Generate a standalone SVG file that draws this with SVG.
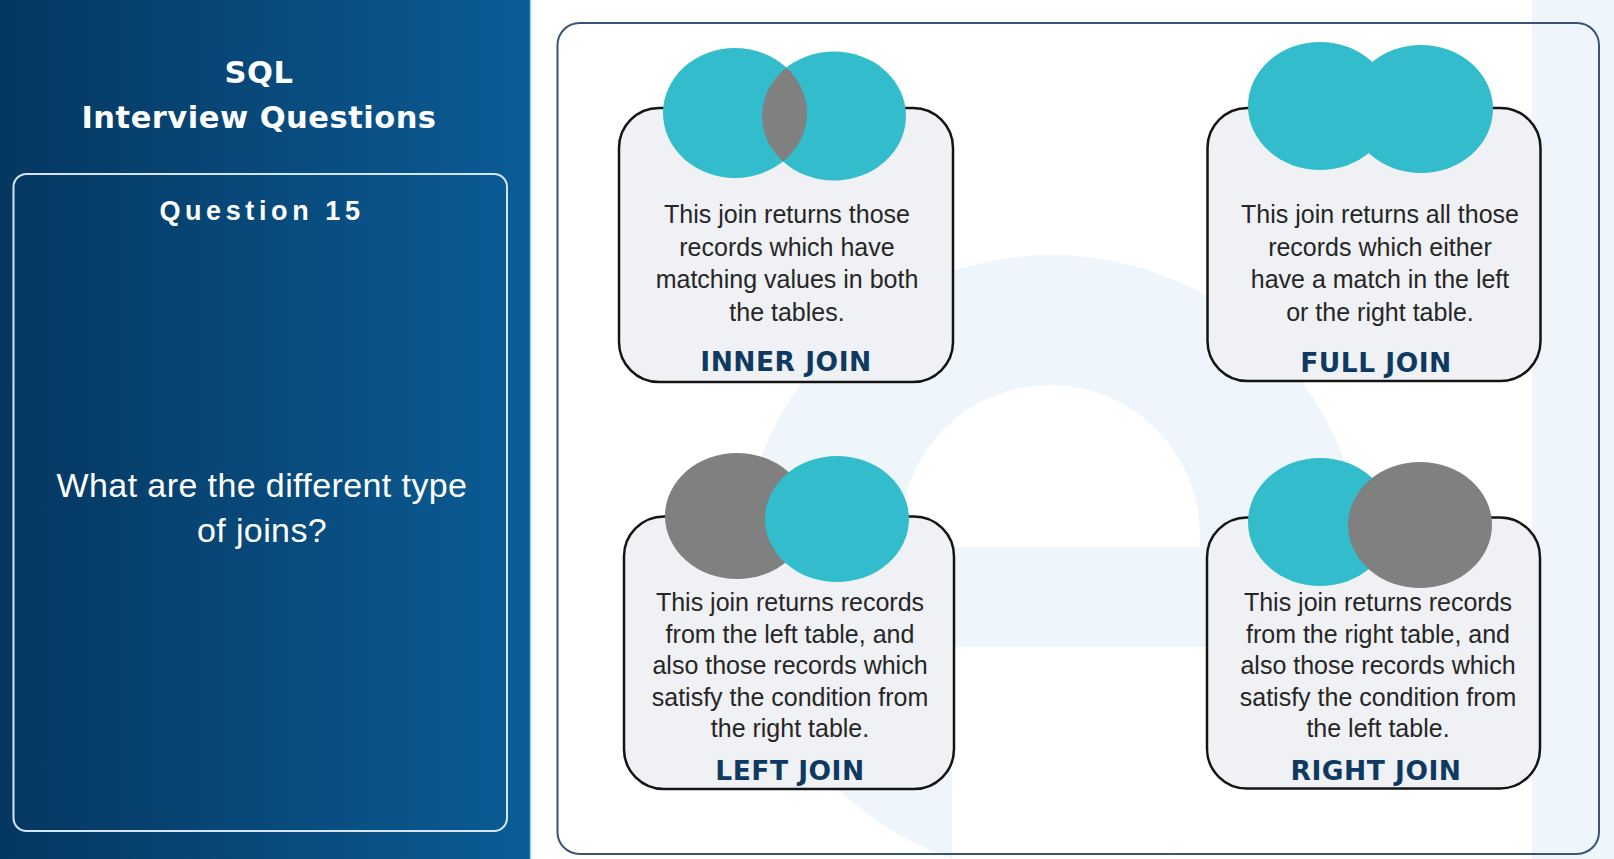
<svg xmlns="http://www.w3.org/2000/svg" width="1614" height="859" viewBox="0 0 1614 859">
  <defs>
    <linearGradient id="panelGrad" x1="0" y1="0" x2="1" y2="0">
      <stop offset="0" stop-color="#053760"/>
      <stop offset="1" stop-color="#0b5c96"/>
    </linearGradient>
    <clipPath id="eClip">
      <circle cx="1052" cy="565" r="310"/>
    </clipPath>
    <clipPath id="innerLeftClip">
      <ellipse cx="735" cy="113" rx="72" ry="65"/>
    </clipPath>
    <style>
      .card { fill: #eff1f4; stroke: #141414; stroke-width: 2.5; }
      .teal { fill: #33bdcc; }
      .gray { fill: #808080; }
      .wm { fill: #eef6fc; }
      .body { font-family: "Liberation Sans", Arial, sans-serif; font-size: 25px; fill: #262626; text-anchor: middle; }
      .label { font-family: "DejaVu Sans", "Liberation Sans", sans-serif; font-weight: bold; font-size: 26.5px; fill: #0e3a62; text-anchor: middle; letter-spacing: 0.5px; }
      .title { font-family: "DejaVu Sans", "Liberation Sans", sans-serif; font-weight: bold; font-size: 30.5px; fill: #ffffff; text-anchor: middle; letter-spacing: 0.5px; }
      .qnum { font-family: "Liberation Sans", Arial, sans-serif; font-weight: bold; font-size: 27px; fill: #ffffff; text-anchor: middle; letter-spacing: 4.6px; }
      .question { font-family: "Liberation Sans", Arial, sans-serif; font-size: 34px; fill: #ffffff; text-anchor: middle; letter-spacing: 0.4px; }
    </style>
  </defs>

  <!-- page background -->
  <rect x="0" y="0" width="1614" height="859" fill="#ffffff"/>

  <!-- faint logo watermark behind the join cards -->
  <g id="watermark">
    <g clip-path="url(#eClip)">
      <rect class="wm" x="740" y="250" width="630" height="620"/>
      <circle cx="1050" cy="535" r="150" fill="#ffffff"/>
      <rect x="952" y="647" width="420" height="230" fill="#ffffff"/>
      <rect class="wm" x="740" y="547" width="630" height="100"/>
    </g>
    <rect class="wm" x="1532" y="0" width="82" height="859"/>
  </g>

  <!-- left title panel -->
  <g id="panel">
    <rect x="0" y="0" width="531" height="859" fill="url(#panelGrad)"/>
    <line x1="530.5" y1="0" x2="530.5" y2="859" stroke="#8fd0e8" stroke-width="1.5"/>
    <text class="title" x="259" y="83">SQL</text>
    <text class="title" x="259" y="128">Interview Questions</text>
  </g>

  <g id="question-box">
    <rect x="13.5" y="174" width="493.5" height="657" rx="13" fill="none" stroke="#d4e6f5" stroke-width="2"/>
    <text class="qnum" x="262" y="220">Question 15</text>
    <text class="question" x="262" y="497">What are the different type</text>
    <text class="question" x="262" y="542">of joins?</text>
  </g>

  <!-- frame holding the four join cards -->
  <rect id="frame" x="557.5" y="23" width="1041.5" height="831" rx="22" fill="none" stroke="#3a5478" stroke-width="2"/>

  <g id="inner-join">
    <rect class="card" x="619" y="108" width="334" height="274" rx="40"/>
    <ellipse class="teal" cx="735" cy="113" rx="72" ry="65"/>
    <ellipse class="teal" cx="834" cy="116" rx="72" ry="64.5"/>
    <ellipse class="gray" cx="834" cy="116" rx="72" ry="64.5" clip-path="url(#innerLeftClip)"/>
    <text class="body" x="787" y="223">This join returns those</text>
    <text class="body" x="787" y="255.5">records which have</text>
    <text class="body" x="787" y="288">matching values in both</text>
    <text class="body" x="787" y="320.5">the tables.</text>
    <text class="label" x="786" y="371">INNER JOIN</text>
  </g>

  <g id="full-join">
    <rect class="card" x="1207.5" y="108" width="333" height="273" rx="40"/>
    <ellipse class="teal" cx="1320" cy="106" rx="72" ry="64"/>
    <ellipse class="teal" cx="1421" cy="109" rx="72" ry="64"/>
    <text class="body" x="1380" y="223">This join returns all those</text>
    <text class="body" x="1380" y="255.5">records which either</text>
    <text class="body" x="1380" y="288">have a match in the left</text>
    <text class="body" x="1380" y="320.5">or the right table.</text>
    <text class="label" x="1376" y="371.5">FULL JOIN</text>
  </g>

  <g id="left-join">
    <rect class="card" x="624" y="516.5" width="330" height="272.5" rx="40"/>
    <ellipse class="gray" cx="737" cy="516" rx="72" ry="63"/>
    <ellipse class="teal" cx="837" cy="519" rx="72" ry="63"/>
    <text class="body" x="790" y="611">This join returns records</text>
    <text class="body" x="790" y="642.5">from the left table, and</text>
    <text class="body" x="790" y="674">also those records which</text>
    <text class="body" x="790" y="705.5">satisfy the condition from</text>
    <text class="body" x="790" y="737">the right table.</text>
    <text class="label" x="790" y="780">LEFT JOIN</text>
  </g>

  <g id="right-join">
    <rect class="card" x="1207" y="517.5" width="333" height="271" rx="40"/>
    <ellipse class="teal" cx="1320" cy="522" rx="72" ry="64"/>
    <ellipse class="gray" cx="1420" cy="525" rx="72" ry="63"/>
    <text class="body" x="1378" y="611">This join returns records</text>
    <text class="body" x="1378" y="642.5">from the right table, and</text>
    <text class="body" x="1378" y="674">also those records which</text>
    <text class="body" x="1378" y="705.5">satisfy the condition from</text>
    <text class="body" x="1378" y="737">the left table.</text>
    <text class="label" x="1376" y="780">RIGHT JOIN</text>
  </g>
</svg>
